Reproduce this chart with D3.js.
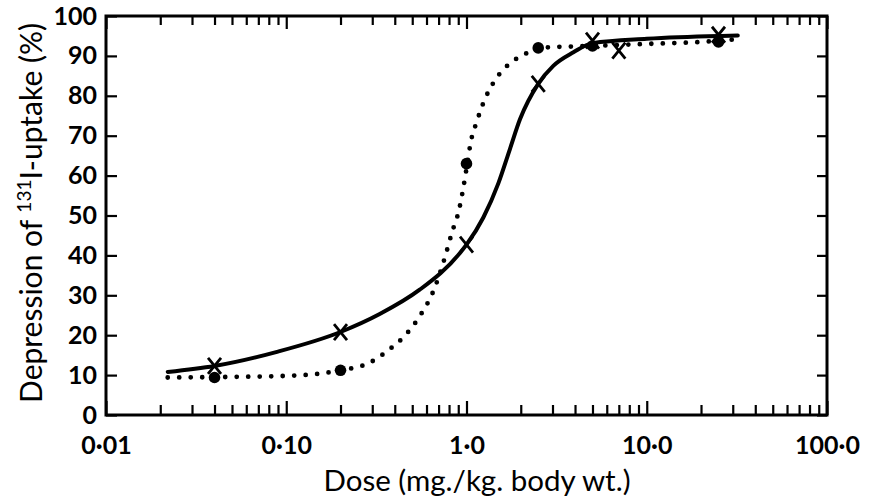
<!DOCTYPE html>
<html>
<head>
<meta charset="utf-8">
<script src="https://cdn.jsdelivr.net/npm/d3@7"></script>
<style>
  html, body { margin: 0; padding: 0; background: #fff; }
  svg { display: block; }
  text { font-family: Lato, "Open Sans", sans-serif; fill: #000; }
</style>
</head>
<body>
<svg id="chart" width="870" height="503"></svg>
<script>
// ---------------- data ----------------
const xMajorTicks = [0.01, 0.1, 1, 10, 100];
const xTickLabels = ["0·01", "0·10", "1·0", "10·0", "100·0"];
const yTicks = [0, 10, 20, 30, 40, 50, 60, 70, 80, 90, 100];
const yTickLabels = ["0", "10", "20", "30", "40", "50", "60", "70", "80", "90", "100"];

// measured points, crosses (x) series
const crossDose  = [0.04, 0.2, 1.0, 2.5, 5.0, 7.0, 25];
const crossValue = [12.3, 20.8, 42.7, 83.0, 93.8, 91.3, 95.3];

// measured points, dots series
const dotDose  = [0.04, 0.2, 1.0, 2.5, 5.0, 25];
const dotValue = [9.4, 11.2, 63.0, 92.0, 92.5, 93.5];

// fitted solid curve (crosses)
const solidCurveDose  = [0.022, 0.04, 0.09, 0.2, 0.33, 0.55, 0.92, 1.0, 1.24, 1.5, 1.74, 1.98, 2.5, 3.03, 3.92, 5.0, 10, 25, 32];
const solidCurveValue = [10.8, 12.3, 15.9, 20.8, 25.3, 31.4, 40.6, 42.7, 49.5, 58.0, 66.6, 74.1, 83.0, 87.5, 90.9, 93.2, 94.3, 95.0, 95.1];

// fitted dotted curve (dots)
const dottedCurveDose  = [0.022, 0.04, 0.1, 0.2, 0.29, 0.37, 0.46, 0.56, 0.65, 0.76, 0.83, 0.91, 0.965, 1.01, 1.055, 1.14, 1.25, 1.42, 1.68, 2.14, 2.5, 5, 10, 20, 32];
const dottedCurveValue = [9.4, 9.5, 9.8, 11.2, 13.1, 16.3, 20.1, 25.3, 30.7, 39.6, 45.7, 51.5, 57.5, 63.0, 68.3, 73.5, 78.6, 83.5, 87.5, 90.6, 92.0, 92.5, 93.0, 93.5, 94.2];

// ---------------- drawing ----------------
const svg = d3.select("#chart");
const x = d3.scaleLog().domain([0.01, 100]).range([106, 827]);
const y = d3.scaleLinear().domain([0, 100]).range([415, 16]);

const xMinor = [];
for (let d = 0; d < 4; d++) {
  for (let m = 2; m <= 9; m++) xMinor.push(m * Math.pow(10, d - 2));
}

function styleAxis(g) {
  g.select(".domain").remove();
  g.selectAll(".tick line").attr("stroke", "#000").attr("stroke-width", 2.2);
}

// bottom axis
svg.append("g").attr("transform", `translate(0,${y(0)})`)
  .call(d3.axisBottom(x).tickValues(xMinor).tickSize(-10).tickFormat(""))
  .call(styleAxis);
svg.append("g").attr("transform", `translate(0,${y(0)})`)
  .call(d3.axisBottom(x).tickValues(xMajorTicks).tickSize(-14).tickPadding(21)
        .tickFormat((d, i) => xTickLabels[i]))
  .call(styleAxis)
  .call(g => g.selectAll("text").attr("font-size", 25).attr("font-weight", "bold"));

// top axis
svg.append("g").attr("transform", `translate(0,${y(100)})`)
  .call(d3.axisTop(x).tickValues(xMinor).tickSize(-9).tickFormat(""))
  .call(styleAxis);
svg.append("g").attr("transform", `translate(0,${y(100)})`)
  .call(d3.axisTop(x).tickValues(xMajorTicks).tickSize(-13).tickFormat(""))
  .call(styleAxis);

// left axis
svg.append("g").attr("transform", `translate(${x(0.01)},0)`)
  .call(d3.axisLeft(y).tickValues(yTicks).tickSize(-11).tickPadding(9)
        .tickFormat((d, i) => yTickLabels[i]))
  .call(styleAxis)
  .call(g => g.selectAll("text").attr("font-size", 25).attr("font-weight", "bold"));

// right axis
svg.append("g").attr("transform", `translate(${x(100)},0)`)
  .call(d3.axisRight(y).tickValues(yTicks).tickSize(-10).tickFormat(""))
  .call(styleAxis);

// frame
svg.append("rect")
  .attr("x", x(0.01)).attr("y", y(100))
  .attr("width", x(100) - x(0.01)).attr("height", y(0) - y(100))
  .attr("fill", "none").attr("stroke", "#000").attr("stroke-width", 3);

// curves
const line = d3.line().x(d => x(d[0])).y(d => y(d[1])).curve(d3.curveMonotoneX);

svg.append("path")
  .datum(dottedCurveDose.map((d, i) => [d, dottedCurveValue[i]]))
  .attr("d", line)
  .attr("fill", "none").attr("stroke", "#000")
  .attr("stroke-width", 4.8).attr("stroke-linecap", "round")
  .attr("stroke-dasharray", "0 11.5");

svg.append("path")
  .datum(solidCurveDose.map((d, i) => [d, solidCurveValue[i]]))
  .attr("d", line)
  .attr("fill", "none").attr("stroke", "#000")
  .attr("stroke-width", 4).attr("stroke-linecap", "round");

// dot markers
svg.append("g").selectAll("circle")
  .data(dotDose.map((d, i) => [d, dotValue[i]]))
  .join("circle")
  .attr("cx", d => x(d[0])).attr("cy", d => y(d[1]))
  .attr("r", 5.8).attr("fill", "#000");

// cross markers
svg.append("g").selectAll("path")
  .data(crossDose.map((d, i) => [d, crossValue[i]]))
  .join("path")
  .attr("d", d => {
    const cx = x(d[0]), cy = y(d[1]);
    const w = 6.5, h = 8;
    return `M${cx - w},${cy - h}L${cx + w},${cy + h}M${cx + w},${cy - h}L${cx - w},${cy + h}`;
  })
  .attr("fill", "none").attr("stroke", "#000").attr("stroke-width", 2.8);

// axis titles
svg.append("text")
  .attr("x", 477).attr("y", 491)
  .attr("text-anchor", "middle")
  .attr("font-size", 29.5)
  .text("Dose (mg./kg. body wt.)");

const yt = svg.append("text")
  .attr("transform", "translate(42,213) rotate(-90)")
  .attr("text-anchor", "middle")
  .attr("font-size", 30);
yt.append("tspan").text("Depression of ");
yt.append("tspan").attr("font-size", 19).attr("dy", -11).text("131");
yt.append("tspan").attr("dy", 11).text("I-uptake (%)");
</script>
</body>
</html>
